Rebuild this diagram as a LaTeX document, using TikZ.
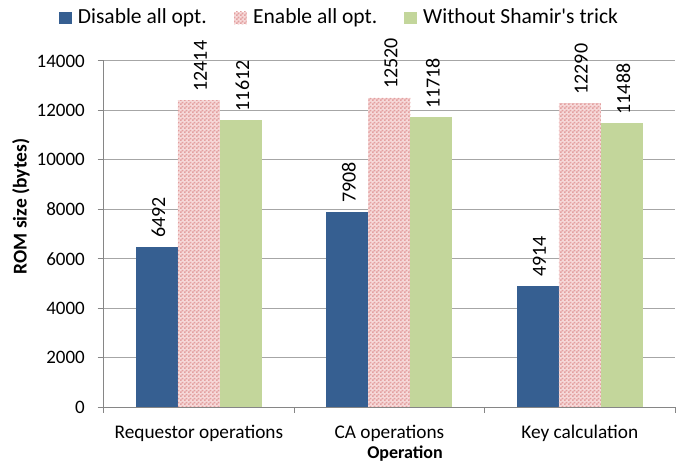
\documentclass[tikz,border=0pt]{standalone}
\usepackage{fontspec}
\setmainfont{Carlito}
\usetikzlibrary{patterns}
\definecolor{barblue}{HTML}{365F91}
\definecolor{bargreen}{HTML}{C3D69B}
\definecolor{pinklight}{HTML}{F6D9D9}
\definecolor{pinkdark}{HTML}{E3A0A0}
\definecolor{gridgray}{HTML}{A6A6A6}
\definecolor{axisgray}{HTML}{868686}
\pgfdeclarepatternformonly{finecheck}{\pgfpointorigin}{\pgfqpoint{4pt}{4pt}}{\pgfqpoint{4pt}{4pt}}{%
  \pgfpathrectangle{\pgfpointorigin}{\pgfqpoint{2pt}{2pt}}%
  \pgfpathrectangle{\pgfqpoint{2pt}{2pt}}{\pgfqpoint{2pt}{2pt}}%
  \pgfusepath{fill}}
\tikzset{
  gridline/.style={draw=gridgray, line width=0.9pt},
  axisline/.style={draw=axisgray, line width=0.9pt},
  ticklabel/.style={font=\fontsize{19}{22}\selectfont, anchor=east, inner sep=0pt},
  catlabel/.style={font=\fontsize{19.3}{22}\selectfont, inner sep=0pt},
  vallabel/.style={font=\fontsize{20}{22}\selectfont, rotate=90, anchor=west, inner sep=0pt},
  legtext/.style={font=\fontsize{21.5}{24}\selectfont, anchor=base west, inner sep=0pt},
  bluebar/.style={fill=barblue},
  pinkbar/.style={fill=pinklight, postaction={pattern=finecheck, pattern color=pinkdark}},
  greenbar/.style={fill=bargreen},
}
\begin{document}
\begin{tikzpicture}[x=1pt,y=-1pt]
\useasboundingbox (0,0) rectangle (683,464);
% gridlines and y ticks
\foreach \v in {2000,4000,...,14000} {
  \draw[gridline] (103,{407-\v*0.0247143}) -- (675,{407-\v*0.0247143});
}
\foreach \v [count=\i] in {0,2000,4000,...,14000} {
  \draw[axisline] (97.5,{407-\v*0.0247143}) -- (103,{407-\v*0.0247143});
  \node[ticklabel] (t\i) at (85,{407-\v*0.0247143}) {\v};
}
% bars
\foreach \c/\a/\b/\g [count=\k] in {198.9/6492/12414/11612, 389.4/7908/12520/11718, 579.8/4914/12290/11488} {
  \fill[bluebar] ({\c-63},407) rectangle ({\c-21},{407-\a*0.0247143});
  \fill[pinkbar] ({\c-21},407) rectangle ({\c+21},{407-\b*0.0247143});
  \fill[greenbar] ({\c+21},407) rectangle ({\c+63},{407-\g*0.0247143});
  \node[vallabel] (va\k) at ({\c-42+1.5},{407-\a*0.0247143-8.5}) {\a};
  \node[vallabel] (vb\k) at ({\c+1.5},{407-\b*0.0247143-8.5}) {\b};
  \node[vallabel] (vc\k) at ({\c+42+1.5},{407-\g*0.0247143-8.5}) {\g};
}
% axes
\draw[axisline] (103,60) -- (103,412.5);
\draw[axisline] (103,407) -- (675,407);
\foreach \x in {294.2,484.6,675} {
  \draw[axisline] (\x,407) -- (\x,412.5);
}
% category labels
\node[catlabel] (c1) at (198.9,433) {Requestor operations};
\node[catlabel] (c2) at (389.4,433) {CA operations};
\node[catlabel] (c3) at (579.8,433) {Key calculation};
% axis titles
\node[font=\bfseries\fontsize{18}{20}\selectfont, inner sep=0pt] (xt) at (405,454) {Operation};
\node[font=\bfseries\fontsize{19.5}{20}\selectfont, inner sep=0pt, rotate=90] (yt) at (21,206.5) {ROM size (bytes)};
% legend
\fill[bluebar] (59.3,11.5) rectangle (71.7,24);
\node[legtext] (l1) at (77.7,23.5) {Disable all opt.};
\fill[pinkbar] (234,11.5) rectangle (246.5,24);
\node[legtext] (l2) at (253,23.5) {Enable all opt.};
\fill[greenbar] (404,11.5) rectangle (416.7,24);
\node[legtext] (l3) at (423,23.5) {Without Shamir\textquotesingle s trick};
\end{tikzpicture}
\end{document}
